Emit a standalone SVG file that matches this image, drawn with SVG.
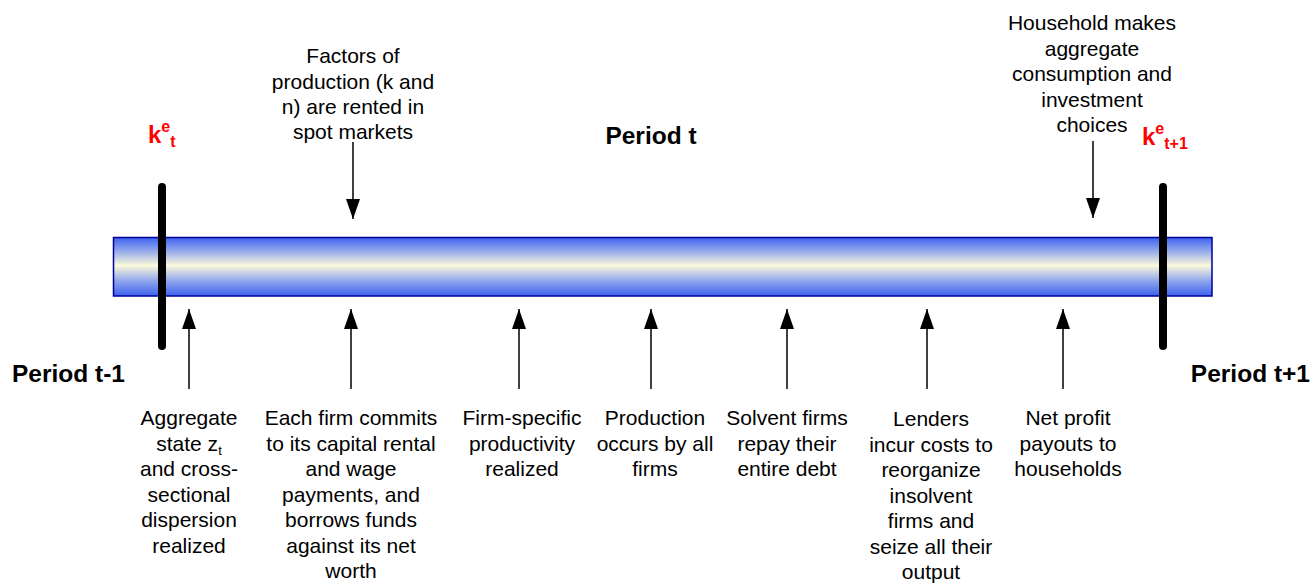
<svg xmlns="http://www.w3.org/2000/svg" width="1315" height="585" viewBox="0 0 1315 585">
  <style>
    .lbl { font-family: "Liberation Sans", Arial, sans-serif; font-size: 21px; fill: #000; text-anchor: middle; }
    .period { font-family: "Liberation Sans", Arial, sans-serif; font-size: 24.5px; font-weight: bold; fill: #000; }
    .cap { font-family: "Liberation Sans", Arial, sans-serif; font-weight: bold; fill: #ff0000; }
    .arrow { stroke: #000; stroke-width: 1.5; fill: none; marker-end: url(#head); }
    .tick { stroke: #000; stroke-width: 8; stroke-linecap: round; }
  </style>
  <defs>
    <linearGradient id="barFill" x1="0" y1="0" x2="0" y2="1">
      <stop offset="0" stop-color="#3d62ee"/>
      <stop offset="0.22" stop-color="#8fa6ec"/>
      <stop offset="0.48" stop-color="#fcf9dc"/>
      <stop offset="0.74" stop-color="#8fa6ec"/>
      <stop offset="1" stop-color="#3d62ee"/>
    </linearGradient>
    <marker id="head" viewBox="0 0 20 14" refX="20" refY="7" markerWidth="20" markerHeight="14" markerUnits="userSpaceOnUse" orient="auto">
      <path d="M0,0 L20,7 L0,14 z" fill="#000"/>
    </marker>
  </defs>

  <rect width="1315" height="585" fill="#fff"/>

  <!-- timeline bar -->
  <g id="timeline">
    <rect x="113.5" y="237.5" width="1098.5" height="58.5" fill="url(#barFill)" stroke="#000099" stroke-width="1.5"/>
  </g>

  <!-- period boundaries -->
  <g id="boundary-start">
    <line class="tick" x1="162" y1="187" x2="162" y2="346"/>
    <text class="cap" x="148" y="143" font-size="24">k<tspan font-size="16" dy="-11">e</tspan><tspan font-size="16" dy="15">t</tspan></text>
  </g>
  <g id="boundary-end">
    <line class="tick" x1="1163" y1="187" x2="1163" y2="346"/>
    <text class="cap" x="1142" y="145" font-size="24">k<tspan font-size="16" dy="-11">e</tspan><tspan font-size="16" dy="15">t+1</tspan></text>
  </g>

  <g id="period-labels">
    <text class="period" x="12" y="382">Period t-1</text>
    <text class="period" x="651" y="144" text-anchor="middle">Period t</text>
    <text class="period" x="1310" y="382" text-anchor="end">Period t+1</text>
  </g>

  <!-- connectors -->
  <g id="connectors">
    <line class="arrow" x1="353" y1="142" x2="353" y2="219"/>
    <line class="arrow" x1="1093" y1="141" x2="1093" y2="218"/>
    <line class="arrow" x1="189" y1="389" x2="189" y2="309"/>
    <line class="arrow" x1="351" y1="389" x2="351" y2="309"/>
    <line class="arrow" x1="519" y1="389" x2="519" y2="309"/>
    <line class="arrow" x1="651" y1="389" x2="651" y2="309"/>
    <line class="arrow" x1="787" y1="389" x2="787" y2="309"/>
    <line class="arrow" x1="927" y1="389" x2="927" y2="309"/>
    <line class="arrow" x1="1063" y1="389" x2="1063" y2="309"/>
  </g>

  <!-- events above the bar -->
  <g id="factors">
    <text class="lbl" x="353" y="63">Factors of</text>
    <text class="lbl" x="353" y="88.5">production (k and</text>
    <text class="lbl" x="353" y="114">n) are rented in</text>
    <text class="lbl" x="353" y="139">spot markets</text>
  </g>
  <g id="household">
    <text class="lbl" x="1092" y="30">Household makes</text>
    <text class="lbl" x="1092" y="55.5">aggregate</text>
    <text class="lbl" x="1092" y="81">consumption and</text>
    <text class="lbl" x="1092" y="106.5">investment</text>
    <text class="lbl" x="1092" y="132">choices</text>
  </g>

  <!-- events below the bar -->
  <g id="aggregate-state">
    <text class="lbl" x="189" y="425">Aggregate</text>
    <text class="lbl" x="189" y="450.5">state z<tspan font-size="13" dy="4">t</tspan></text>
    <text class="lbl" x="189" y="476">and cross-</text>
    <text class="lbl" x="189" y="501.5">sectional</text>
    <text class="lbl" x="189" y="527">dispersion</text>
    <text class="lbl" x="189" y="552.5">realized</text>
  </g>
  <g id="firm-commits">
    <text class="lbl" x="351" y="425">Each firm commits</text>
    <text class="lbl" x="351" y="450.5">to its capital rental</text>
    <text class="lbl" x="351" y="476">and wage</text>
    <text class="lbl" x="351" y="501.5">payments, and</text>
    <text class="lbl" x="351" y="527">borrows funds</text>
    <text class="lbl" x="351" y="552.5">against its net</text>
    <text class="lbl" x="351" y="578">worth</text>
  </g>
  <g id="productivity">
    <text class="lbl" x="522" y="425">Firm-specific</text>
    <text class="lbl" x="522" y="450.5">productivity</text>
    <text class="lbl" x="522" y="476">realized</text>
  </g>
  <g id="production">
    <text class="lbl" x="655" y="425">Production</text>
    <text class="lbl" x="655" y="450.5">occurs by all</text>
    <text class="lbl" x="655" y="476">firms</text>
  </g>
  <g id="repayment">
    <text class="lbl" x="787" y="425">Solvent firms</text>
    <text class="lbl" x="787" y="450.5">repay their</text>
    <text class="lbl" x="787" y="476">entire debt</text>
  </g>
  <g id="reorganization">
    <text class="lbl" x="931" y="426">Lenders</text>
    <text class="lbl" x="931" y="451.5">incur costs to</text>
    <text class="lbl" x="931" y="477">reorganize</text>
    <text class="lbl" x="931" y="502.5">insolvent</text>
    <text class="lbl" x="931" y="528">firms and</text>
    <text class="lbl" x="931" y="553.5">seize all their</text>
    <text class="lbl" x="931" y="579">output</text>
  </g>
  <g id="payouts">
    <text class="lbl" x="1068" y="425">Net profit</text>
    <text class="lbl" x="1068" y="450.5">payouts to</text>
    <text class="lbl" x="1068" y="476">households</text>
  </g>
</svg>
